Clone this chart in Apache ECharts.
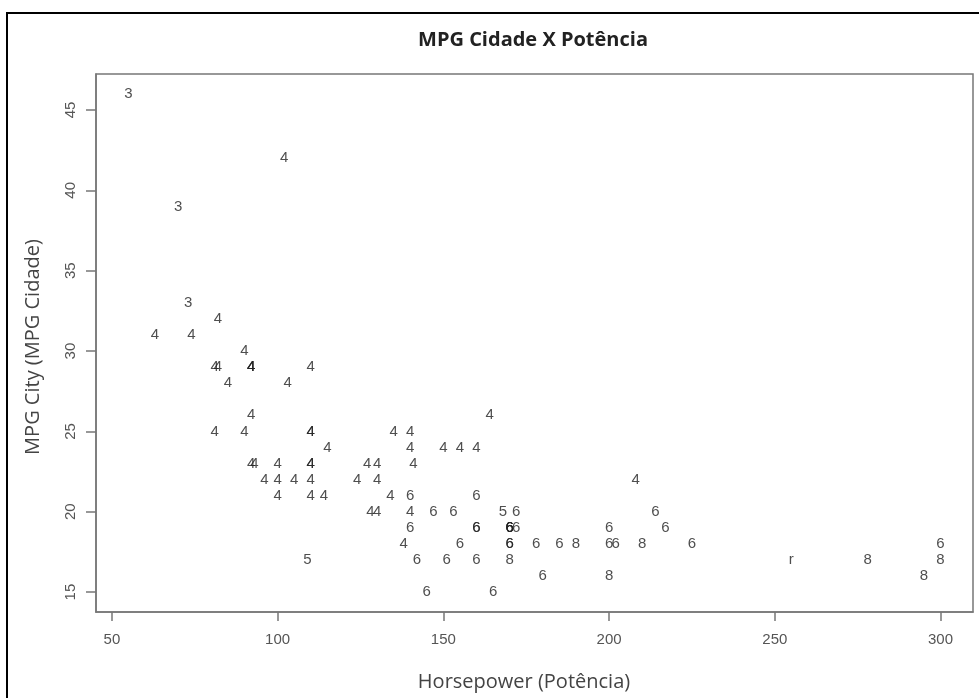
<!DOCTYPE html>
<html>
	<head>
		<meta charset="UTF-8">
		<title>MPG Cidade X Potência</title>
		<style>
			html, body { margin: 0; padding: 0; background: #fff; }
		</style>
	</head>
	<body>
		<div id="echart" style="width: 979px;height: 698px;overflow: hidden;"></div>
		<script src="https://cdn.jsdelivr.net/npm/echarts@6/dist/echarts.min.js" type="text/javascript" charset="utf-8"></script>
		<script type="text/javascript">
// Cars93: Horsepower x MPG.city, label = Cylinders
var horsepower = [140, 200, 172, 172, 208, 110, 170, 180, 170, 200, 295, 110, 110, 160, 110, 170, 165, 170, 300, 153,
	141, 147, 92, 93, 100, 142, 100, 300, 92, 214, 63, 127, 96, 105, 115, 145, 140, 190, 55, 90,
	160, 102, 140, 81, 124, 92, 128, 278, 185, 225, 160, 210, 82, 103, 164, 155, 255, 130, 217, 100,
	140, 92, 202, 110, 150, 151, 160, 155, 110, 170, 170, 92, 74, 110, 160, 200, 170, 140, 85, 73,
	90, 130, 70, 82, 135, 130, 138, 81, 109, 134, 178, 114, 168];
var mpgCity = [25, 18, 20, 19, 22, 22, 19, 16, 19, 16, 16, 25, 25, 19, 21, 18, 15, 17, 17, 20,
	23, 20, 29, 23, 22, 17, 21, 18, 29, 20, 31, 23, 22, 22, 24, 15, 21, 18, 46, 30,
	24, 42, 24, 29, 22, 26, 20, 17, 18, 18, 17, 18, 29, 28, 26, 18, 17, 20, 19, 23,
	19, 29, 18, 29, 24, 17, 21, 24, 23, 18, 19, 23, 31, 23, 19, 19, 19, 20, 28, 33,
	25, 23, 39, 32, 25, 22, 18, 25, 17, 21, 18, 21, 20];
var cylinders = ['4', '6', '6', '6', '4', '4', '6', '6', '6', '8', '8', '4', '4', '6', '4', '6', '6', '8', '8', '6',
	'4', '6', '4', '4', '4', '6', '4', '6', '4', '6', '4', '4', '4', '4', '4', '6', '6', '8', '3', '4',
	'4', '4', '4', '4', '4', '4', '4', '8', '6', '6', '6', '8', '4', '4', '4', '6', 'r', '4', '6', '4',
	'6', '4', '6', '4', '4', '6', '6', '4', '4', '6', '6', '4', '4', '4', '6', '6', '6', '4', '4', '3',
	'4', '4', '3', '4', '4', '4', '4', '4', '5', '4', '6', '4', '5'];
var xTicks = [50, 100, 150, 200, 250, 300];
var yTicks = [15, 20, 25, 30, 35, 40, 45];

var pts = [];
for (var i = 0; i < horsepower.length; i++) {
	pts.push([horsepower[i], mpgCity[i], cylinders[i]]);
}

var axisGrey = '#777';
var myChart = echarts.init(document.getElementById('echart'), null, {renderer: 'canvas'});
myChart.setOption({
	animation: false,
	backgroundColor: '#fff',
	grid: {
		left: 96,
		top: 74,
		right: 6,
		bottom: 86,
		show: true,
		borderColor: axisGrey,
		borderWidth: 1.5,
		backgroundColor: 'transparent'
	},
	graphic: [
		// moldura preta da imagem
		{type: 'rect', shape: {x: 7, y: 13, width: 1000, height: 720},
			style: {fill: 'none', stroke: '#000', lineWidth: 2}, silent: true},
		{type: 'text', x: 533, y: 40,
			style: {text: 'MPG Cidade X Potência', fontFamily: 'Open Sans', fontWeight: 'bold', fontSize: 20,
				fill: '#222', align: 'center', verticalAlign: 'middle'}},
		{type: 'text', x: 524, y: 682,
			style: {text: 'Horsepower (Potência)', fontFamily: 'Open Sans', fontSize: 20,
				fill: '#444', align: 'center', verticalAlign: 'middle'}},
		{type: 'text', x: 33, y: 347, rotation: Math.PI / 2,
			style: {text: 'MPG City (MPG Cidade)', fontFamily: 'Open Sans', fontSize: 20,
				fill: '#444', align: 'center', verticalAlign: 'middle'}}
	],
	xAxis: {
		type: 'value',
		min: 45.2,
		max: 309.8,
		splitLine: {show: false},
		axisLine: {show: true, onZero: false, lineStyle: {color: axisGrey, width: 1.5}},
		axisTick: {show: true, customValues: xTicks, length: 9, lineStyle: {color: axisGrey, width: 1.5}},
		axisLabel: {customValues: xTicks, margin: 20, fontFamily: 'Liberation Sans', fontSize: 15, color: '#555',
			showMinLabel: true, showMaxLabel: true}
	},
	yAxis: {
		type: 'value',
		min: 13.76,
		max: 47.24,
		splitLine: {show: false},
		axisLine: {show: true, onZero: false, lineStyle: {color: axisGrey, width: 1.5}},
		axisTick: {show: true, customValues: yTicks, length: 10, lineStyle: {color: axisGrey, width: 1.5}},
		axisLabel: {customValues: yTicks, rotate: 90, margin: 18, fontFamily: 'Liberation Sans', fontSize: 15, color: '#555'}
	},
	series: [{
		type: 'scatter',
		data: pts,
		symbol: 'circle',
		symbolSize: 1,
		itemStyle: {color: 'rgba(0,0,0,0)'},
		silent: true,
		label: {
			show: true,
			position: 'inside',
			fontFamily: 'Liberation Sans',
			fontSize: 15,
			color: '#222',
			formatter: function(p) {
				return p.value[2];
			}
		}
	}]
});
		</script>
	</body>
</html>
